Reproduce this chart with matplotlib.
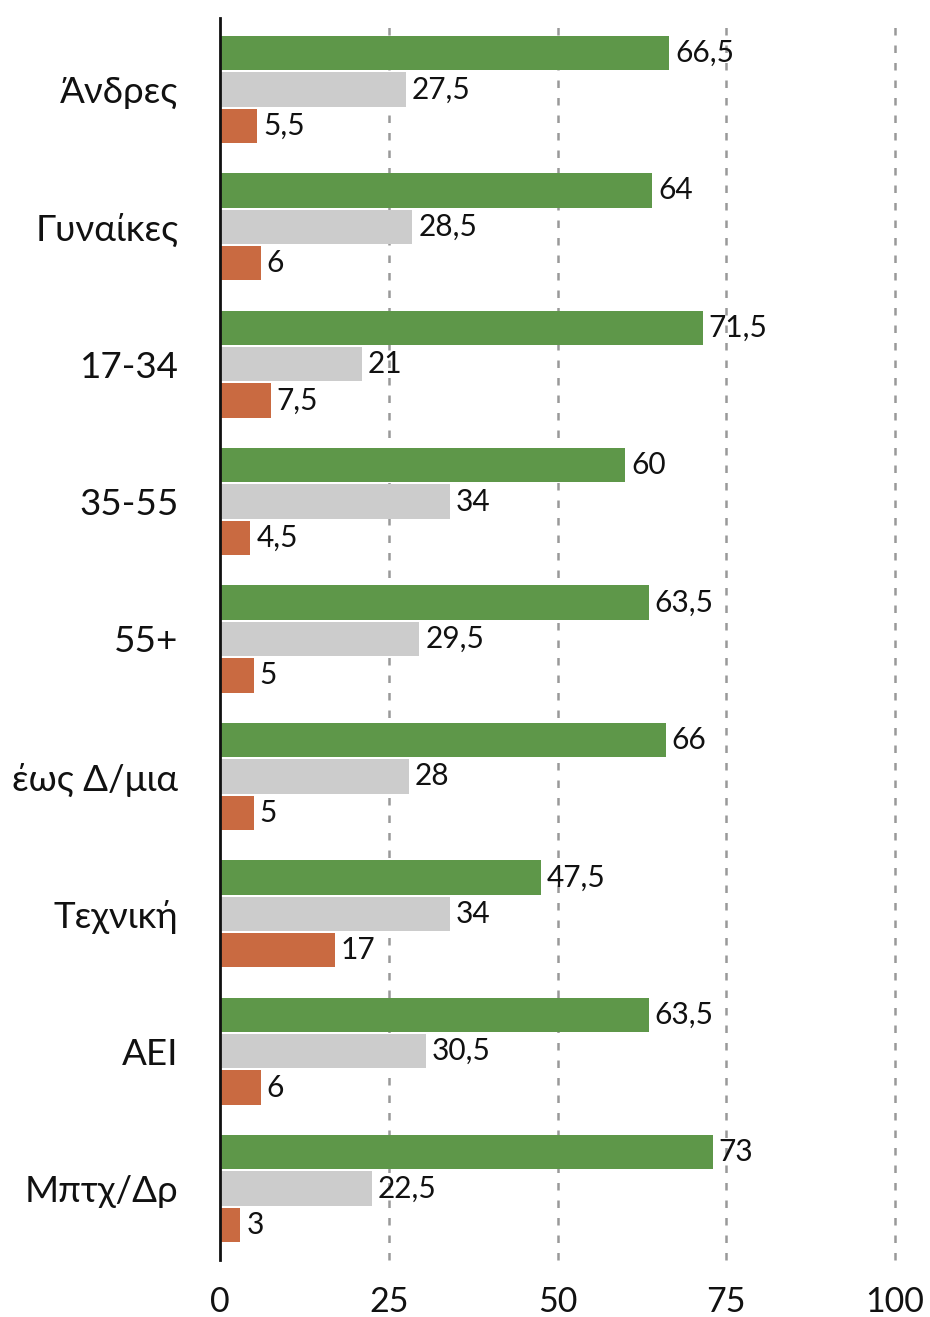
import matplotlib
matplotlib.use("Agg")
import matplotlib.pyplot as plt
import numpy as np

plt.rcParams['font.family'] = ['Lato', 'Noto Sans', 'DejaVu Sans']

categories = ["Άνδρες", "Γυναίκες", "17-34", "35-55", "55+", "έως Δ/μια", "Τεχνική", "ΑΕΙ", "Μπτχ/Δρ"]
green_vals = [66.5, 64, 71.5, 60, 63.5, 66, 47.5, 63.5, 73]
grey_vals = [27.5, 28.5, 21, 34, 29.5, 28, 34, 30.5, 22.5]
orange_vals = [5.5, 6, 7.5, 4.5, 5, 5, 17, 6, 3]
x_ticks = [0, 25, 50, 75, 100]

colors = ["#5e9749", "#cccccc", "#c96a41"]

fig = plt.figure(figsize=(9.3, 13.17), dpi=100)
ax = fig.add_axes([220/930, 1 - 1260/1317, (895-220)/930, (1260-18)/1317])

y = np.arange(len(categories))
h = 0.25
off = 0.265
for vals, dy, c in [(green_vals, -off, colors[0]), (grey_vals, 0, colors[1]), (orange_vals, off, colors[2])]:
    bars = ax.barh(y + dy, vals, height=h, color=c, zorder=2)
    for b, v in zip(bars, vals):
        txt = (f"{v:g}").replace(".", ",")
        ax.text(v + 0.9, b.get_y() + b.get_height()/2, txt, va="center", ha="left",
                fontsize=21.5, color="#111111", zorder=3)

ax.set_xlim(0, 100)
ax.set_ylim(len(categories) - 1 + 0.52, -0.52)
ax.set_yticks(y)
ax.set_yticklabels(categories, fontsize=26.5, color="#111111")
ax.set_xticks(x_ticks)
ax.set_xticklabels([str(t) for t in x_ticks], fontsize=24.5, color="#111111")
ax.tick_params(axis='y', length=0, pad=30)
ax.tick_params(axis='x', length=0, pad=19)
for s in ["top", "right", "bottom"]:
    ax.spines[s].set_visible(False)
ax.spines["left"].set_linewidth(2)
ax.spines["left"].set_color("#111111")
ax.spines["left"].set_zorder(4)
for t in x_ticks[1:]:
    ax.axvline(t, color="#999999", linestyle=(0, (3, 4)), linewidth=1.8, zorder=1, clip_on=False)

fig.savefig("out.png", dpi=100)
